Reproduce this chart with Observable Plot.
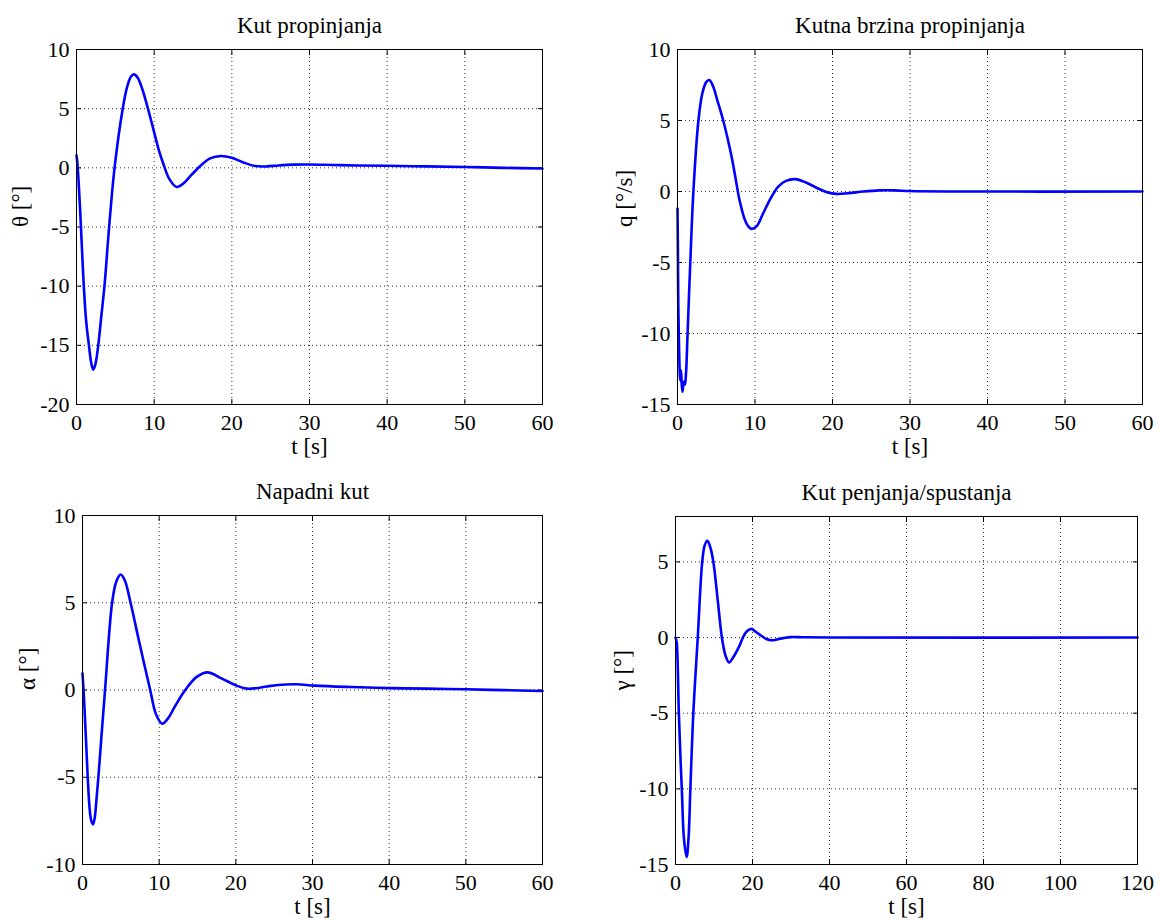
<!DOCTYPE html>
<html><head><meta charset="utf-8">
<script src="https://cdn.jsdelivr.net/npm/d3@7"></script>
<script src="https://cdn.jsdelivr.net/npm/@observablehq/plot@0.6"></script>
<style>
body{margin:0;background:#fff;}
#root{position:relative;width:1160px;height:920px;background:#fff;}
.panel{position:absolute;}
.panel svg{overflow:visible;font-family:'Liberation Serif','Times New Roman',serif !important;}
.panel svg text, .panel svg g{font-family:'Liberation Serif','Times New Roman',serif !important;font-variant:normal !important;}
</style></head><body><div id="root"></div>
<script>
// Panel titles and axis labels
const titles = ["Kut propinjanja", "Kutna brzina propinjanja", "Napadni kut", "Kut penjanja/spustanja"];
const yLabels = ["θ [°]", "q [°/s]", "α [°]", "γ [°]"];
const xLabel = "t [s]";

// Tick values
const xTicks60 = [0, 10, 20, 30, 40, 50, 60];
const xTicks120 = [0, 20, 40, 60, 80, 100, 120];
const yTicksTheta = [-20, -15, -10, -5, 0, 5, 10];
const yTicksQ = [-15, -10, -5, 0, 5, 10];
const yTicksAlpha = [-10, -5, 0, 5, 10];
const yTicksGamma = [-15, -10, -5, 0, 5];

// θ – pitch angle
const thetaT = [0, 0.1, 0.3, 0.5, 0.75, 0.94, 1.25, 1.6, 1.9, 2.15, 2.4, 2.8, 3.2, 3.6, 4.2, 4.9, 5.95, 6.5, 7.0, 7.4, 7.9, 8.5, 9.2, 10, 10.6, 11.2, 12, 12.9, 13.8, 14.8, 16, 17.2, 18.6, 20, 21.5, 23, 24.5, 26, 28, 30, 33, 36, 40, 45, 50, 55, 60];
const thetaV = [1.05, 0.5, -1.5, -4, -7.5, -10, -13, -15, -16.5, -17.05, -16.7, -15, -12.5, -10, -5, 0, 5, 6.8, 7.7, 7.9, 7.6, 6.6, 5, 3, 1.5, 0.3, -1.0, -1.62, -1.3, -0.6, 0.2, 0.8, 1.0, 0.85, 0.45, 0.15, 0.12, 0.2, 0.27, 0.28, 0.24, 0.2, 0.17, 0.12, 0.07, 0.0, -0.05];

// q – pitch rate
const qT = [0, 0.05, 0.1, 0.2, 0.35, 0.45, 0.55, 0.65, 0.8, 0.95, 1.1, 1.3, 1.65, 2.05, 2.7, 3.2, 3.7, 4.1, 4.6, 5.15, 5.9, 7.0, 7.5, 8.0, 8.7, 9.2, 9.6, 10.2, 11, 12, 13, 14, 15.2, 16.5, 18, 19.3, 20.5, 22, 24, 26, 28, 30, 35, 60];
const qV = [-1.2, -4, -8, -11, -13.3, -12.6, -13.6, -14.1, -13.4, -13.6, -12.8, -10, -5, 0, 5, 6.9, 7.7, 7.85, 7.4, 6.4, 5, 2.4, 0.9, -0.6, -2.0, -2.5, -2.63, -2.45, -1.6, -0.5, 0.35, 0.75, 0.87, 0.65, 0.25, -0.05, -0.17, -0.12, 0.0, 0.08, 0.08, 0.03, 0.0, 0.0];

// α – angle of attack
const alphaT = [0, 0.2, 0.45, 0.68, 0.95, 1.15, 1.38, 1.6, 1.8, 2.07, 2.5, 2.94, 3.86, 4.4, 4.97, 5.5, 6.27, 7.4, 8.83, 9.6, 10.4, 11.2, 12, 13.4, 14.9, 16.3, 18.2, 20, 21.4, 22.6, 24, 25.5, 27.9, 30.3, 35, 40, 45, 50, 55, 60];
const alphaV = [0.95, -0.5, -2.8, -5, -6.9, -7.5, -7.7, -7.3, -6.4, -5, -2.5, 0, 5, 6.2, 6.62, 6.3, 5, 2.75, 0, -1.4, -1.93, -1.6, -0.98, 0, 0.75, 1.01, 0.65, 0.27, 0.08, 0.1, 0.2, 0.29, 0.33, 0.25, 0.17, 0.11, 0.08, 0.04, -0.01, -0.06];

// γ – flight path angle
const gammaT = [0, 0.3, 0.5, 0.87, 1.3, 1.64, 2.2, 2.9, 3.4, 3.86, 4.63, 5.78, 6.94, 7.6, 8.3, 9.0, 9.83, 11, 12.05, 13, 13.9, 15, 16.6, 17.5, 18.5, 19.7, 21, 22.4, 23.6, 24.9, 26.5, 28, 30, 33, 40, 120];
const gammaV = [0, -0.3, -1.2, -5, -8, -10, -13.3, -14.5, -13.2, -10, -5, 0, 5, 6.1, 6.4, 6.0, 5, 2.4, 0, -1.2, -1.65, -1.3, -0.55, 0, 0.4, 0.57, 0.35, 0.1, -0.1, -0.18, -0.12, -0.04, 0.03, 0.02, 0, 0];

const FONT = "'Liberation Serif', 'Times New Roman', serif";
const fmt = d => String(d);

function panel(cfg) {
  const data = cfg.t.map((t, i) => ({t, v: cfg.v[i]}));
  const grid = {stroke: "#000", strokeOpacity: 0.8, strokeDasharray: "1,3", strokeWidth: 1};
  const chart = Plot.plot({
    width: 580, height: 460,
    marginLeft: cfg.ml, marginRight: cfg.mr, marginTop: cfg.mt, marginBottom: cfg.mb,
    style: {fontFamily: FONT, fontSize: "21px", color: "#000", background: "transparent", overflow: "visible"},
    x: {domain: cfg.xDomain},
    y: {domain: cfg.yDomain},
    marks: [
      Plot.gridX(cfg.xTicks, grid),
      Plot.gridY(cfg.yTicks, grid),
      Plot.axisX(cfg.xTicks, {anchor: "bottom", tickSize: -5, tickPadding: 15, tickFormat: fmt, label: null, fontSize: 22, fontFamily: FONT}),
      Plot.axisX(cfg.xTicks, {anchor: "top", tickSize: -5, tickFormat: () => "", label: null}),
      Plot.axisY(cfg.yTicks, {anchor: "left", tickSize: -5, tickPadding: 12, tickFormat: fmt, label: null, fontSize: 22, fontFamily: FONT}),
      Plot.axisY(cfg.yTicks, {anchor: "right", tickSize: -5, tickFormat: () => "", label: null}),
      Plot.line(data, {x: "t", y: "v", stroke: "#0000ff", strokeWidth: 2.6, curve: "catmull-rom"}),
      Plot.frame({stroke: "#000", strokeWidth: 1}),
      Plot.text([cfg.title], {frameAnchor: "top", dy: -17, lineAnchor: "bottom", fontSize: 23, fontFamily: FONT, text: d => d}),
      Plot.text([xLabel], {frameAnchor: "bottom", dy: 49, lineAnchor: "bottom", fontSize: 23, fontFamily: FONT, text: d => d}),
      Plot.text([cfg.yLabel], {frameAnchor: "left", dx: -cfg.lo, rotate: -90, lineAnchor: "top", fontSize: 23, fontFamily: FONT, text: d => d})
    ]
  });
  d3.select(chart).selectAll("text, g").style("font-family", FONT).style("font-variant", "normal");
  const div = document.createElement("div");
  div.className = "panel";
  div.style.left = cfg.left + "px";
  div.style.top = cfg.top + "px";
  div.appendChild(chart);
  document.getElementById("root").appendChild(div);
}

panel({t: thetaT, v: thetaV, xDomain: [0, 60], xTicks: xTicks60, yDomain: [-20, 10], yTicks: yTicksTheta,
  title: titles[0], yLabel: yLabels[0], left: 0, top: 0, ml: 76, mr: 38, mt: 49, mb: 56, lo: 65});
panel({t: qT, v: qV, xDomain: [0, 60], xTicks: xTicks60, yDomain: [-15, 10], yTicks: yTicksQ,
  title: titles[1], yLabel: yLabels[1], left: 580, top: 0, ml: 97, mr: 18, mt: 49, mb: 56, lo: 62});
panel({t: alphaT, v: alphaV, xDomain: [0, 60], xTicks: xTicks60, yDomain: [-10, 10], yTicks: yTicksAlpha,
  title: titles[2], yLabel: yLabels[2], left: 0, top: 460, ml: 82, mr: 38, mt: 55, mb: 56, lo: 64});
panel({t: gammaT, v: gammaV, xDomain: [0, 120], xTicks: xTicks120, yDomain: [-15, 8], yTicks: yTicksGamma,
  title: titles[3], yLabel: yLabels[3], left: 580, top: 460, ml: 95, mr: 23, mt: 56, mb: 56, lo: 62});
</script>
</body></html>
